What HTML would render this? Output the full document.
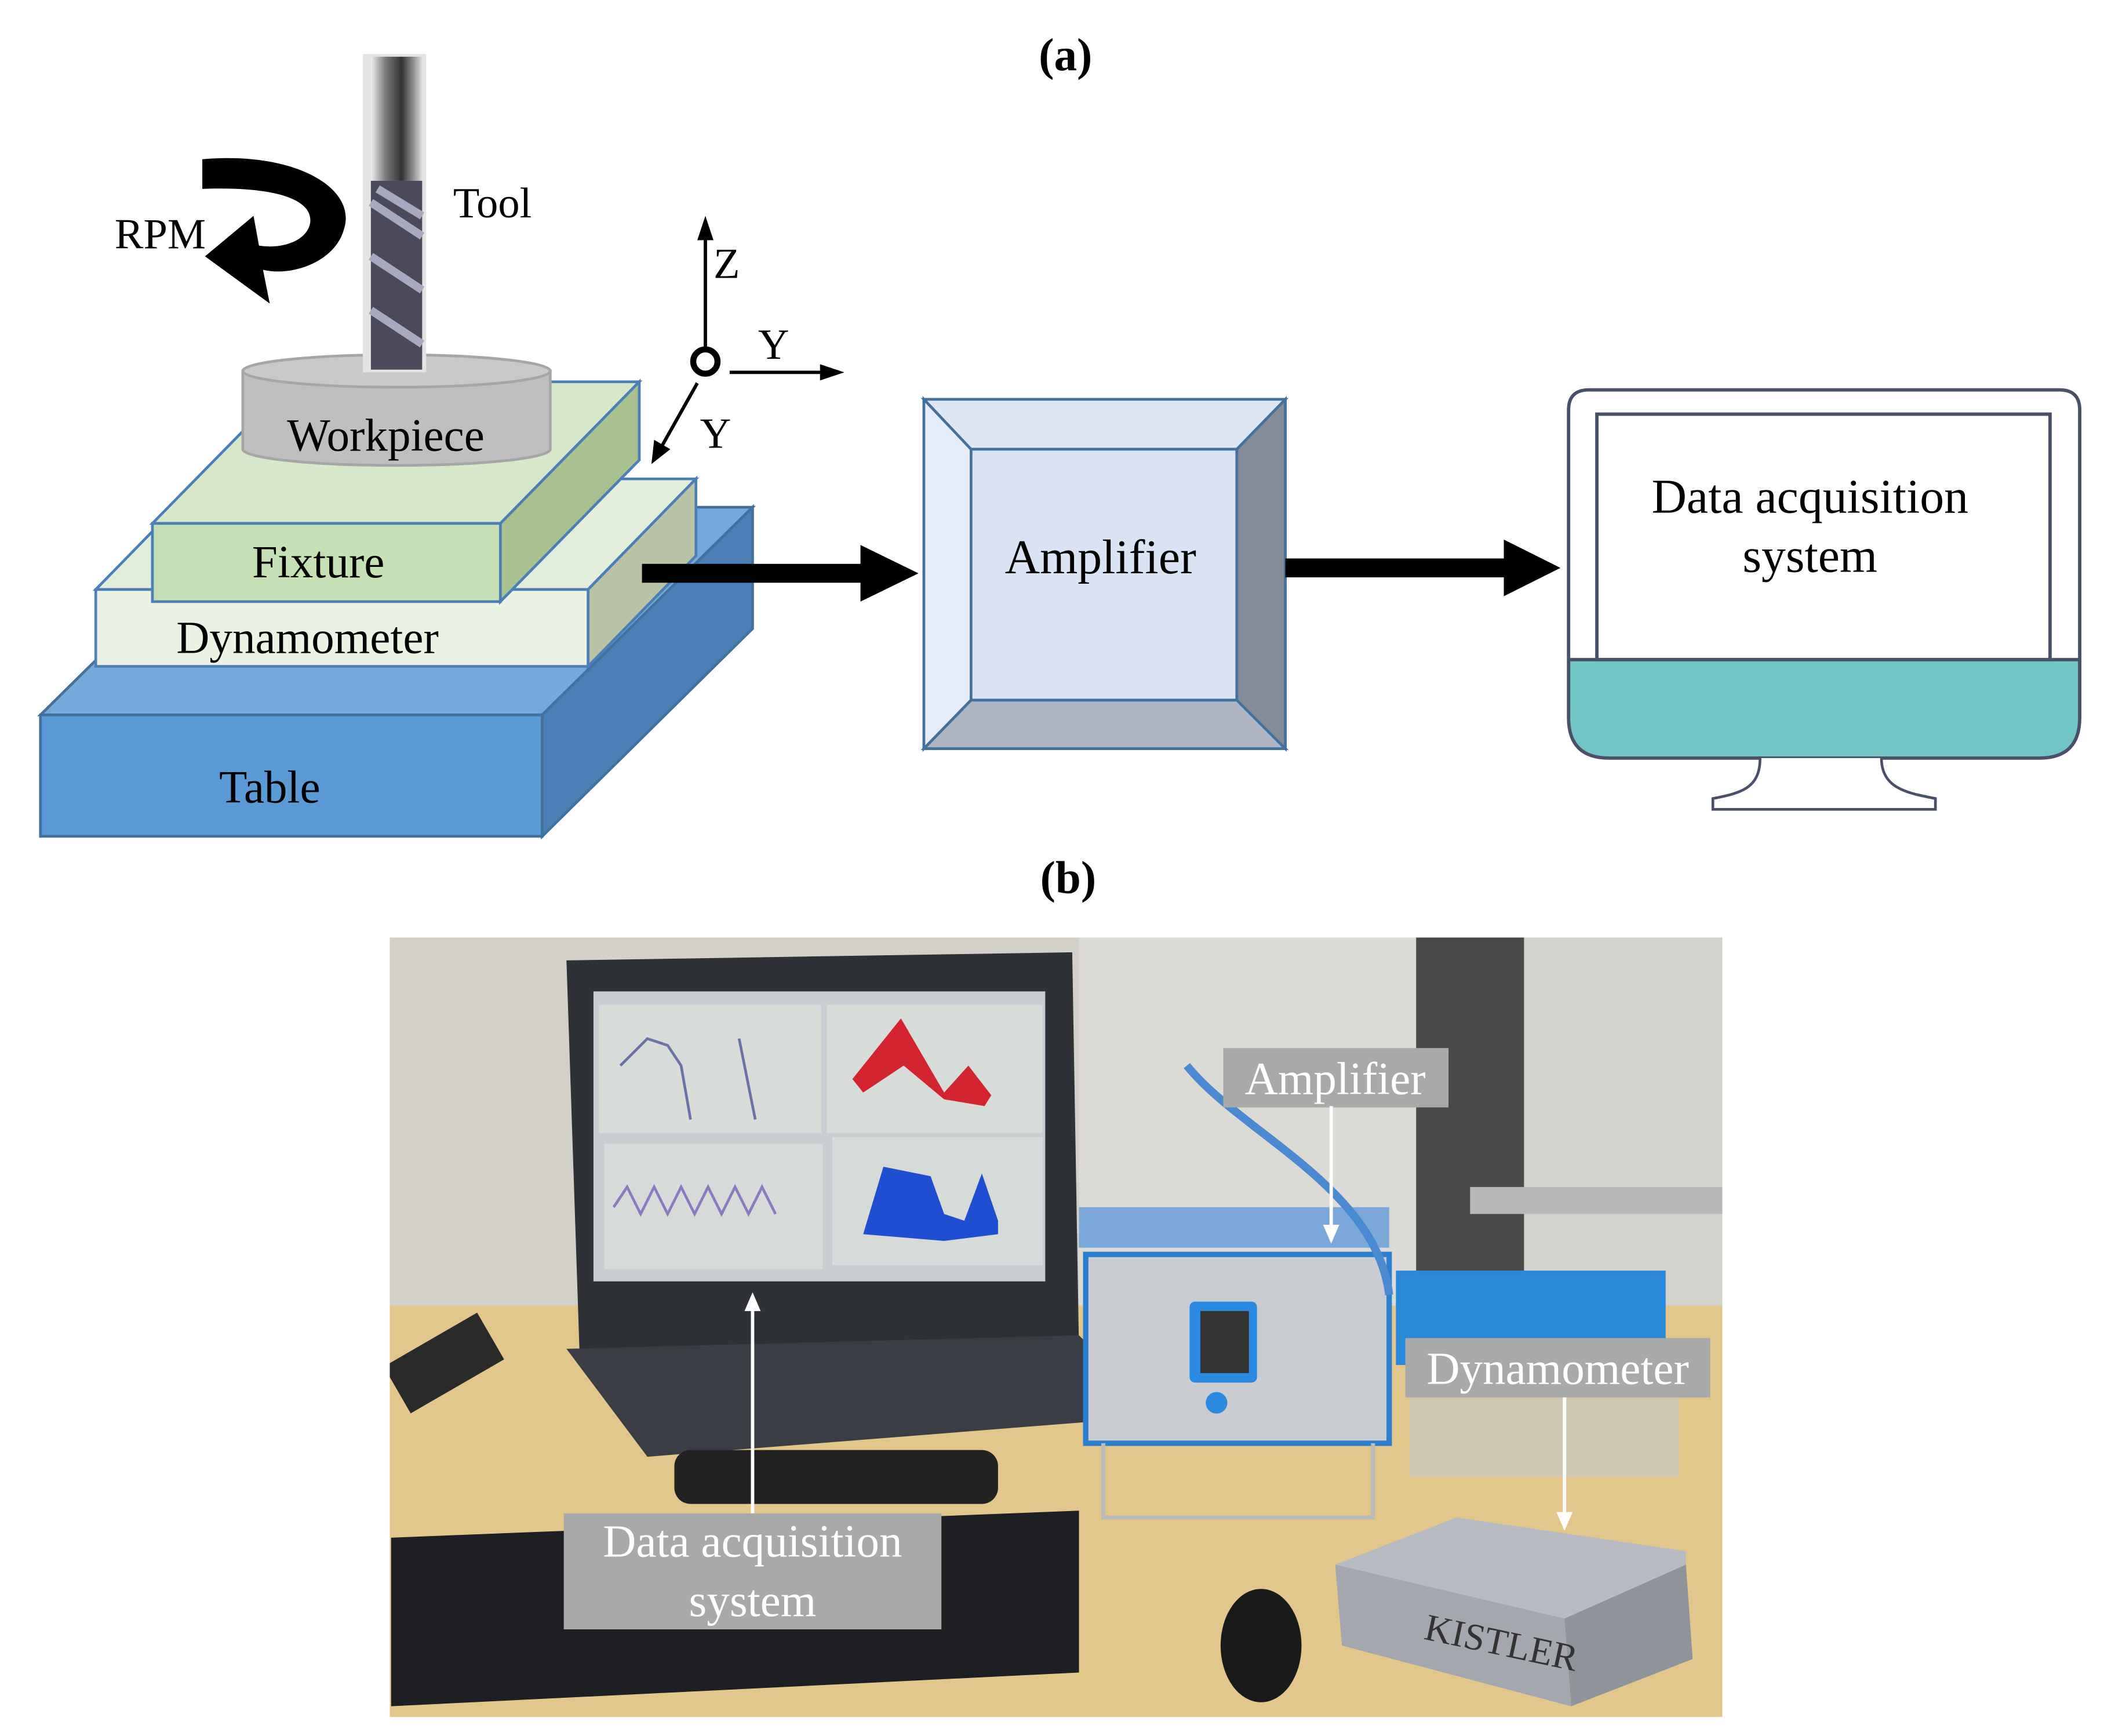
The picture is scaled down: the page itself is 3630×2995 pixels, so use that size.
<!DOCTYPE html>
<html><head><meta charset="utf-8"><style>
html,body{margin:0;padding:0;background:#fff}
svg{display:block}
text{font-family:"Liberation Serif",serif}
</style></head><body>
<svg width="3630" height="2995" viewBox="0 0 1560 1287" xmlns="http://www.w3.org/2000/svg">
<rect width="1560" height="1287" fill="#fff"/>
<text x="790" y="52" font-size="34" font-weight="bold" text-anchor="middle">(a)</text>

<!-- Table -->
<polygon points="30,530 186,376 558,376 402,530" fill="#74a9dc" stroke="#41719c" stroke-width="2"/>
<polygon points="402,530 558,376 558,466 402,620" fill="#4a7fb5" stroke="#41719c" stroke-width="2"/>
<rect x="30" y="530" width="372" height="90" fill="#5b9bd5" stroke="#41719c" stroke-width="2"/>
<text x="200" y="595" font-size="34" text-anchor="middle">Table</text>

<!-- Dynamometer -->
<polygon points="71,437 151,355 516,355 436,437" fill="#e2eedb" stroke="#4a7fb8" stroke-width="2"/>
<polygon points="436,437 516,355 516,412 436,494" fill="#b9c3a6" stroke="#4a7fb8" stroke-width="2"/>
<rect x="71" y="437" width="365" height="57" fill="#ebf3e4" stroke="#4a7fb8" stroke-width="2"/>
<text x="228" y="484" font-size="34" text-anchor="middle">Dynamometer</text>

<!-- Fixture -->
<polygon points="113,388 216,283 474,283 371,388" fill="#d6e8c9" stroke="#4a7fb8" stroke-width="2"/>
<polygon points="371,388 474,283 474,341 371,446" fill="#a9c08f" stroke="#4a7fb8" stroke-width="2"/>
<rect x="113" y="388" width="258" height="58" fill="#c5e0b4" stroke="#4a7fb8" stroke-width="2"/>
<text x="236" y="428" font-size="34" text-anchor="middle">Fixture</text>

<!-- Workpiece -->
<path d="M180,275 L180,333 A114,12 0 0 0 408,333 L408,275 Z" fill="#bfbfbf" stroke="#a6a6a6" stroke-width="2"/>
<ellipse cx="294" cy="275" rx="114" ry="12" fill="#c9c9c9" stroke="#a6a6a6" stroke-width="2"/>
<text x="286" y="334" font-size="34" text-anchor="middle">Workpiece</text>

<!-- Tool -->
<defs>
<linearGradient id="sh" x1="0" x2="1"><stop offset="0" stop-color="#eee"/><stop offset="0.3" stop-color="#777"/><stop offset="0.6" stop-color="#333"/><stop offset="0.85" stop-color="#999"/><stop offset="1" stop-color="#ddd"/></linearGradient>
</defs>
<rect x="269" y="40" width="47" height="236" fill="#e4e4e4"/>
<rect x="275" y="42" width="38" height="92" fill="url(#sh)"/>
<rect x="275" y="134" width="38" height="140" fill="#4a4a5a"/>
<path d="M275,150 L313,175 M275,190 L313,215 M275,230 L313,255 M280,140 L313,160" stroke="#a8a8c0" stroke-width="6"/>

<text x="336" y="161" font-size="32">Tool</text>
<text x="85" y="184" font-size="32">RPM</text>
<!-- RPM arrow -->
<path d="M150,118 C220,112 265,140 255,170 C248,195 215,205 195,200 L200,225 L152,190 L188,160 L192,182 C210,185 228,178 230,165 C232,148 205,138 150,140 Z" fill="#000"/>

<!-- axes -->
<line x1="523" y1="258" x2="523" y2="175" stroke="#000" stroke-width="2.5"/>
<polygon points="517,178 523,160 529,178" fill="#000"/>
<circle cx="523" cy="268" r="9" fill="#fff" stroke="#000" stroke-width="4.5"/>
<line x1="541" y1="276" x2="610" y2="276" stroke="#000" stroke-width="2.5"/>
<polygon points="608,270 626,276 608,282" fill="#000"/>
<line x1="517" y1="284" x2="490" y2="332" stroke="#000" stroke-width="2.5"/>
<polygon points="483,344 485,326 497,333" fill="#000"/>
<text x="529" y="206" font-size="32">Z</text>
<text x="562" y="266" font-size="32">Y</text>
<text x="519" y="332" font-size="32">Y</text>

<!-- arrow 1 -->
<rect x="476" y="418" width="166" height="14" fill="#000"/>
<polygon points="638,404 681,425 638,446" fill="#000"/>

<!-- Amplifier -->
<rect x="685" y="296" width="268" height="259" fill="#dae3f3" stroke="#41719c" stroke-width="2"/>
<polygon points="685,296 720,333 720,519 685,555" fill="#e6ecf7" stroke="#41719c" stroke-width="2"/>
<polygon points="953,296 917,333 917,519 953,555" fill="#858d9a" stroke="#41719c" stroke-width="2"/>
<polygon points="685,555 720,519 917,519 953,555" fill="#adb4c2" stroke="#41719c" stroke-width="2"/>
<polygon points="685,296 720,333 917,333 953,296" fill="#dfe6f3" stroke="#41719c" stroke-width="2"/>
<rect x="720" y="333" width="197" height="186" fill="#dae3f3" stroke="#41719c" stroke-width="2"/>
<text x="816" y="425" font-size="36" text-anchor="middle">Amplifier</text>

<!-- arrow 2 -->
<rect x="953" y="414" width="166" height="14" fill="#000"/>
<polygon points="1115,400 1157,421 1115,442" fill="#000"/>

<!-- Monitor -->
<path d="M1163,489 L1542,489 L1542,532 Q1542,562 1512,562 L1193,562 Q1163,562 1163,532 Z" fill="#71c5c7"/>
<path d="M1178,289 L1527,289 Q1542,289 1542,304 L1542,532 Q1542,562 1512,562 L1193,562 Q1163,562 1163,532 L1163,304 Q1163,289 1178,289 Z" fill="none" stroke="#4a5068" stroke-width="2.5"/>
<rect x="1184" y="307" width="336" height="182" fill="#fff" stroke="#4a5068" stroke-width="2.5"/>
<line x1="1163" y1="489" x2="1542" y2="489" stroke="#4a5068" stroke-width="2.5"/>
<path d="M1305,562 C1305,585 1290,588 1270,592 L1270,600 L1435,600 L1435,592 C1415,588 1395,585 1395,562" fill="#fff" stroke="#4a5068" stroke-width="2"/>
<text x="1342" y="380" font-size="36" text-anchor="middle">Data acquisition</text>
<text x="1342" y="424" font-size="36" text-anchor="middle">system</text>

<text x="792" y="662" font-size="34" font-weight="bold" text-anchor="middle">(b)</text>

<!-- Photo -->
<clipPath id="ph"><rect x="289" y="695" width="988" height="578"/></clipPath>
<g clip-path="url(#ph)">
<rect x="289" y="695" width="988" height="578" fill="#d3d0c8"/>
<rect x="800" y="695" width="250" height="300" fill="#dcdad4"/>
<rect x="1050" y="695" width="80" height="280" fill="#4a4a48"/>
<rect x="1130" y="695" width="147" height="280" fill="#d4d2cc"/>
<rect x="1090" y="880" width="187" height="20" fill="#b8b8b6"/>
<rect x="289" y="968" width="988" height="305" fill="#e2c68a"/>
<!-- laptop -->
<polygon points="420,712 795,706 800,1000 430,1012" fill="#2e3136"/>
<rect x="440" y="735" width="335" height="215" fill="#c9ccd0"/>
<rect x="444" y="745" width="165" height="95" fill="#d8dcd8"/>
<rect x="613" y="745" width="160" height="95" fill="#d8dcd8"/>
<rect x="448" y="848" width="162" height="93" fill="#d6dad8"/>
<rect x="617" y="843" width="156" height="95" fill="#d6dad8"/>
<polygon points="632,800 668,755 700,810 718,790 735,812 730,820 700,815 670,790 640,810" fill="#d3252f"/>
<polygon points="640,915 655,865 690,872 700,900 715,905 728,870 740,905 740,915 700,920" fill="#1e4fd0"/>
<path d="M460,790 L480,770 L495,775 L505,790 L512,830 M548,770 L560,830" stroke="#6a72a8" fill="none" stroke-width="2"/>
<path d="M455,895 l10,-15 l10,20 l10,-20 l10,20 l10,-20 l10,20 l10,-20 l10,20 l10,-20 l10,20 l10,-20 l10,20" stroke="#8a7ac0" fill="none" stroke-width="2"/>
<polygon points="420,1000 800,990 860,1050 480,1080" fill="#3a3d44"/>
<rect x="500" y="1075" width="240" height="40" rx="12" fill="#222"/>
<!-- amplifier device -->
<rect x="800" y="895" width="230" height="30" fill="#7aa8d8"/>
<rect x="805" y="930" width="225" height="140" fill="#c9ccd0" stroke="#2b7fd0" stroke-width="4"/>
<rect x="882" y="965" width="50" height="60" rx="4" fill="#2a8ae0"/>
<rect x="890" y="972" width="36" height="46" fill="#333"/>
<circle cx="902" cy="1040" r="8" fill="#2a8ae0"/>
<path d="M818,1070 L818,1125 L1018,1125 L1018,1070" stroke="#bbb" stroke-width="3" fill="none"/>
<path d="M880,790 C920,840 1020,880 1030,960" stroke="#4a8ad0" stroke-width="6" fill="none"/>
<!-- blue box -->
<rect x="1035" y="942" width="200" height="70" fill="#2a88d8"/>
<rect x="1045" y="1010" width="200" height="85" fill="#cfc7b0"/>
<!-- keyboard -->
<polygon points="290,1140 800,1120 800,1240 290,1265" fill="#1e1f22"/>
<!-- mouse -->
<ellipse cx="935" cy="1220" rx="30" ry="42" fill="#1a1a1a"/>
<!-- kistler -->
<polygon points="990,1160 1080,1125 1250,1150 1250,1200 1160,1245" fill="#b8bcc2"/>
<polygon points="990,1160 1160,1200 1165,1265 995,1220" fill="#a4a8ae"/>
<polygon points="1160,1200 1250,1160 1255,1230 1165,1265" fill="#8f949b"/>
<text x="1055" y="1215" font-size="28" fill="#333" font-family="Liberation Sans,sans-serif" transform="rotate(12 1055 1215)">KISTLER</text>
<rect x="289" y="990" width="80" height="40" fill="#2a2a2a" transform="rotate(-30 330 1010)"/>
</g>
<!-- labels -->
<rect x="907" y="777" width="167" height="44" fill="#a9a9a9"/>
<text x="990" y="811" font-size="34" fill="#fff" text-anchor="middle">Amplifier</text>
<line x1="987" y1="820" x2="987" y2="912" stroke="#fff" stroke-width="2.5"/>
<polygon points="981,908 987,922 993,908" fill="#fff"/>
<rect x="1042" y="992" width="226" height="44" fill="#a9a9a9"/>
<text x="1155" y="1026" font-size="34" fill="#fff" text-anchor="middle">Dynamometer</text>
<line x1="1160" y1="1036" x2="1160" y2="1125" stroke="#fff" stroke-width="2.5"/>
<polygon points="1154,1121 1160,1135 1166,1121" fill="#fff"/>
<rect x="418" y="1122" width="280" height="86" fill="#a9a9a9"/>
<text x="558" y="1154" font-size="34" fill="#fff" text-anchor="middle">Data acquisition</text>
<text x="558" y="1198" font-size="34" fill="#fff" text-anchor="middle">system</text>
<line x1="558" y1="1122" x2="558" y2="968" stroke="#fff" stroke-width="2.5"/>
<polygon points="552,972 558,958 564,972" fill="#fff"/>
</svg>
</body></html>
